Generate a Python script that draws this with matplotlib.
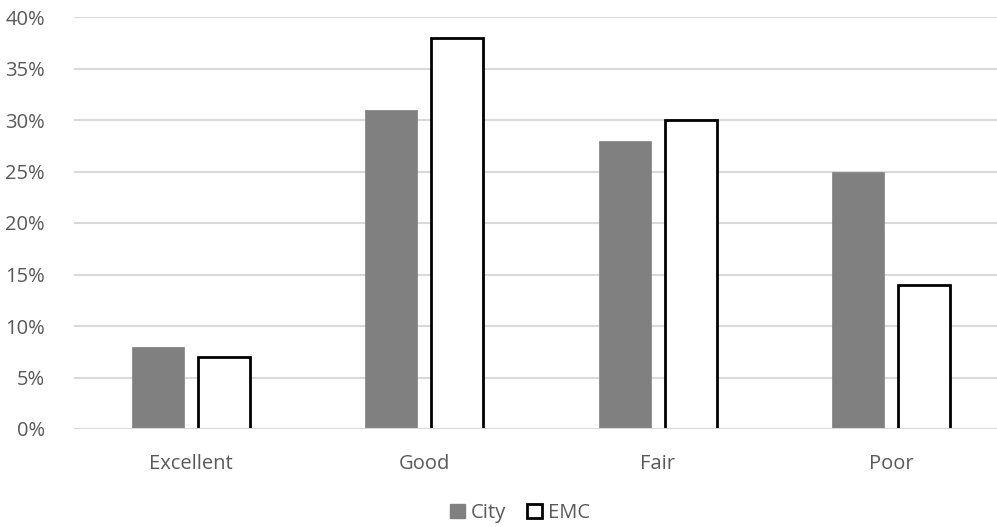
import matplotlib
matplotlib.use("Agg")
import matplotlib.pyplot as plt
import numpy as np
from matplotlib.patches import Patch

categories = ["Excellent", "Good", "Fair", "Poor"]
city = [8, 31, 28, 25]
emc = [7, 38, 30, 14]
yticks = [0, 5, 10, 15, 20, 25, 30, 35, 40]

plt.rcParams['font.family'] = ['Open Sans', 'DejaVu Sans']

fig = plt.figure(figsize=(9.97, 5.27), dpi=100)
ax = fig.add_axes([74/997, 98/527, 934/997, 412/527])

x = np.arange(len(categories))
w = 0.223
off = 0.1415
ax.bar(x - off, city, width=w, color="#808080", edgecolor="#808080", linewidth=0.5, zorder=3, label="City")
ax.bar(x + off, emc, width=w, color="white", edgecolor="black", linewidth=2, zorder=3, label="EMC")
ax.axhline(0, color="#d9d9d9", linewidth=1.5, zorder=4)

ax.set_xlim(-0.5, 3.5)
ax.set_ylim(0, 40)
ax.set_yticks(yticks)
ax.set_yticklabels([f"{v}%" for v in yticks])
ax.set_xticks(x)
ax.set_xticklabels(categories)
ax.grid(axis="y", color="#d9d9d9", linewidth=1.5, zorder=0)
for s in ax.spines.values():
    s.set_visible(False)
ax.tick_params(axis="both", length=0, labelsize=14.5, colors="#595959")
ax.tick_params(axis="y", pad=21)
ax.tick_params(axis="x", pad=18)

handles = [Patch(facecolor="#808080", edgecolor="#808080"),
           Patch(facecolor="white", edgecolor="black", linewidth=2)]
fig.legend(handles, ["City", "EMC"], loc="center", bbox_to_anchor=(520/997, 1 - 513/527),
           ncol=2, frameon=False, fontsize=14.5, labelcolor="#595959",
           handlelength=0.75, handleheight=0.75, handletextpad=0.3, columnspacing=1.0)

fig.savefig("out.png", dpi=100)
